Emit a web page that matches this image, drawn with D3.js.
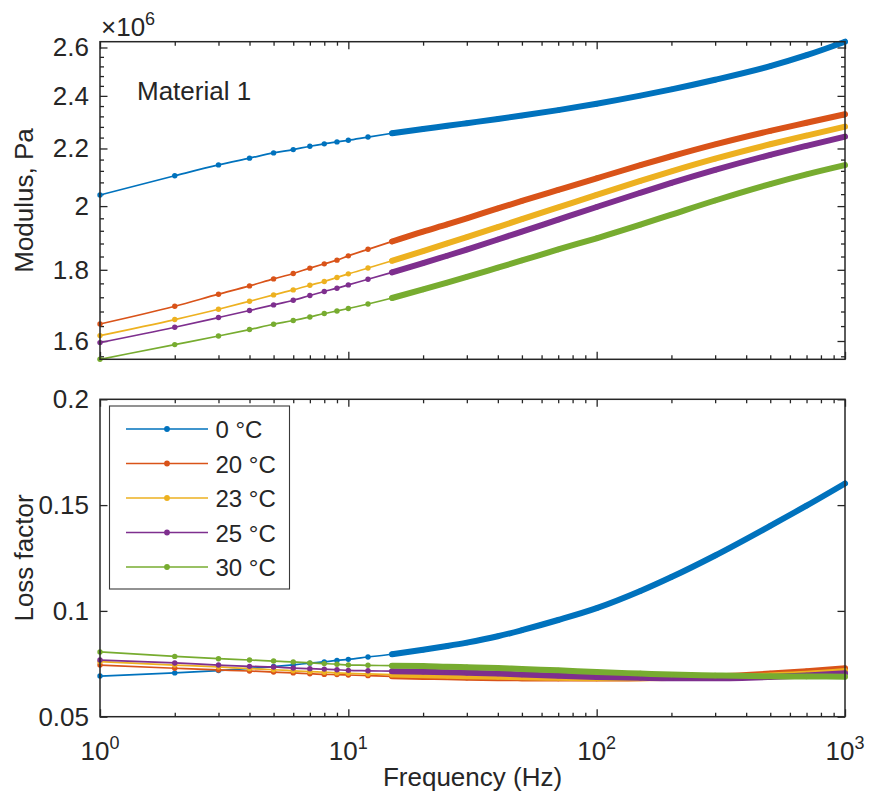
<!DOCTYPE html>
<html><head><meta charset="utf-8">
<script src="https://cdn.jsdelivr.net/npm/d3@7"></script>
<style>
body{margin:0;background:#fff}
svg{display:block}
text{font-family:"Liberation Sans",Arial,Helvetica,sans-serif;fill:#262626}
</style>
</head><body>
<svg id="c" width="869" height="798"></svg>
<script>
// ---- data ----
const freq = [1,2,3,4,5,6,7,8,9,10,12,15,20,25,30,40,50,70,100,150,200,300,500,700,1000];

// Modulus (x 10^6 Pa)
const mod0  = [2.037,2.103,2.141,2.165,2.184,2.196,2.208,2.217,2.224,2.230,2.242,2.256,2.272,2.284,2.294,2.310,2.323,2.344,2.369,2.401,2.426,2.465,2.521,2.567,2.625];
const mod20 = [1.6457,1.6947,1.7288,1.7527,1.7731,1.7891,1.8049,1.8178,1.8290,1.8420,1.8620,1.8862,1.9174,1.9401,1.9598,1.9923,2.0170,2.0542,2.0942,2.1400,2.1719,2.2150,2.2650,2.2957,2.3283];
const mod23 = [1.6144,1.6578,1.6863,1.7088,1.7268,1.7411,1.7547,1.7655,1.7773,1.7879,1.8053,1.8271,1.8565,1.8802,1.9000,1.9319,1.9571,1.9958,2.0377,2.0852,2.1183,2.1632,2.2154,2.2475,2.2808];
const mod25 = [1.5958,1.6368,1.6633,1.6827,1.6984,1.7117,1.7251,1.7365,1.7461,1.7556,1.7720,1.7925,1.8200,1.8423,1.8613,1.8925,1.9174,1.9557,1.9971,2.0446,2.0781,2.1235,2.1768,2.2096,2.2437];
const mod30 = [1.5523,1.5905,1.6133,1.6306,1.6449,1.6551,1.6650,1.6744,1.6816,1.6883,1.7010,1.7180,1.7424,1.7623,1.7791,1.8064,1.8279,1.8615,1.8964,1.9395,1.9720,2.0186,2.0741,2.1077,2.1403];

// Loss factor
const loss0  = [0.0692,0.0707,0.0718,0.0728,0.0737,0.0745,0.0753,0.0759,0.0766,0.0771,0.0782,0.0795,0.0816,0.0834,0.0850,0.0880,0.0909,0.0957,0.1013,0.1094,0.1160,0.1262,0.1402,0.1497,0.1602];
const loss20 = [0.0744,0.0729,0.0721,0.0716,0.0711,0.0707,0.0703,0.0700,0.0699,0.0697,0.0694,0.0691,0.0688,0.0686,0.0684,0.0682,0.0681,0.0680,0.0680,0.0682,0.0685,0.0691,0.0704,0.0715,0.0729];
const loss23 = [0.0760,0.0744,0.0735,0.0727,0.0722,0.0717,0.0713,0.0710,0.0707,0.0705,0.0702,0.0699,0.0696,0.0693,0.0691,0.0689,0.0686,0.0684,0.0682,0.0682,0.0683,0.0686,0.0695,0.0703,0.0716];
const loss25 = [0.0768,0.0754,0.0744,0.0738,0.0735,0.0730,0.0727,0.0725,0.0722,0.0719,0.0717,0.0715,0.0712,0.0710,0.0708,0.0704,0.0699,0.0694,0.0688,0.0684,0.0682,0.0682,0.0688,0.0695,0.0705];
const loss30 = [0.0806,0.0785,0.0774,0.0768,0.0763,0.0759,0.0754,0.0751,0.0748,0.0744,0.0743,0.0741,0.0740,0.0736,0.0734,0.0730,0.0725,0.0719,0.0711,0.0704,0.0699,0.0695,0.0691,0.0690,0.0689];

const seriesLabels = ["0 °C","20 °C","23 °C","25 °C","30 °C"];
const colors = ["#0072BD","#D95319","#EDB120","#7E2F8E","#77AC30"];

const xMajor = [1,10,100,1000];
const xMajorExp = ["0","1","2","3"];
const yTopMajor = [1.6,1.8,2.0,2.2,2.4,2.6];
const yTopLabels = ["1.6","1.8","2","2.2","2.4","2.6"];
const yTopMinor = [1.56,1.64,1.68,1.72,1.76,1.84,1.88,1.92,1.96,2.04,2.08,2.12,2.16,2.24,2.28,2.32,2.36,2.44,2.48,2.52,2.56];
const yBotMajor = [0.05,0.1,0.15,0.2];
const yBotLabels = ["0.05","0.1","0.15","0.2"];

const modSeries = [mod0,mod20,mod23,mod25,mod30];
const lossSeries = [loss0,loss20,loss23,loss25,loss30];

// ---- layout ----
const svg = d3.select("#c");
const X0 = 100, X1 = 845;
const TOP = {y0: 41.7, y1: 359.3};
const BOT = {y0: 399.3, y1: 716.7};
const AX = "#262626";
const FS = 26;

const x = d3.scaleLog().domain([1,1000]).range([X0,X1]);
const xMinor = x.ticks().filter(t => !xMajor.includes(t));

const allMod = modSeries.flat();
const yTop = d3.scaleLog().domain([d3.min(allMod), d3.max(allMod)]).range([TOP.y1, TOP.y0]);
const yBot = d3.scaleLinear().domain([0.05,0.2]).range([BOT.y1, BOT.y0]);

function styleAxis(g){
  g.select(".domain").remove();
  g.selectAll(".tick line").attr("stroke",AX).attr("stroke-width",1.3);
  g.selectAll(".tick text").attr("font-size",FS).attr("fill",AX)
   .attr("font-family",'"Liberation Sans",Arial,Helvetica,sans-serif');
}

function panel(P, y, series, yMaj, yLab, yMin){
  const g = svg.append("g");
  g.append("g").attr("transform",`translate(0,${P.y1})`)
    .call(d3.axisBottom(x).tickValues(xMajor).tickSize(-7.5).tickFormat("")).call(styleAxis);
  g.append("g").attr("transform",`translate(0,${P.y1})`)
    .call(d3.axisBottom(x).tickValues(xMinor).tickSize(-4).tickFormat("")).call(styleAxis);
  g.append("g").attr("transform",`translate(0,${P.y0})`)
    .call(d3.axisTop(x).tickValues(xMajor).tickSize(-7.5).tickFormat("")).call(styleAxis);
  g.append("g").attr("transform",`translate(0,${P.y0})`)
    .call(d3.axisTop(x).tickValues(xMinor).tickSize(-4).tickFormat("")).call(styleAxis);
  g.append("g").attr("transform",`translate(${X0},0)`)
    .call(d3.axisLeft(y).tickValues(yMaj).tickSize(-7.5).tickPadding(11).tickFormat((d,i)=>yLab[i])).call(styleAxis);
  g.append("g").attr("transform",`translate(${X1},0)`)
    .call(d3.axisRight(y).tickValues(yMaj).tickSize(-7.5).tickFormat("")).call(styleAxis);
  if (yMin){
    g.append("g").attr("transform",`translate(${X0},0)`)
      .call(d3.axisLeft(y).tickValues(yMin).tickSize(-4).tickFormat("")).call(styleAxis);
    g.append("g").attr("transform",`translate(${X1},0)`)
      .call(d3.axisRight(y).tickValues(yMin).tickSize(-4).tickFormat("")).call(styleAxis);
  }
  const line = d3.line().curve(d3.curveMonotoneX).x(d=>x(d.f)).y(d=>y(d.v));
  series.forEach((arr,i)=>{
    const pts = freq.map((f,k)=>({f, v: arr[k]}));
    const s = g.append("g");
    s.append("path").attr("d",line(pts)).attr("fill","none")
      .attr("stroke",colors[i]).attr("stroke-width",1.7);
    // band where the original's per-Hz markers overlap
    s.append("path").attr("d",line(pts.filter(p=>p.f>=15))).attr("fill","none")
      .attr("stroke",colors[i]).attr("stroke-width",6)
      .attr("stroke-linecap","round").attr("stroke-linejoin","round");
    s.selectAll("circle").data(pts).join("circle")
      .attr("cx",d=>x(d.f)).attr("cy",d=>y(d.v)).attr("r",2.7).attr("fill",colors[i]);
  });
  g.append("rect").attr("x",X0).attr("y",P.y0).attr("width",X1-X0).attr("height",P.y1-P.y0)
    .attr("fill","none").attr("stroke",AX).attr("stroke-width",1.5);
  return g;
}

panel(TOP, yTop, modSeries, yTopMajor, yTopLabels, yTopMinor);
panel(BOT, yBot, lossSeries, yBotMajor, yBotLabels, null);

// x tick labels 10^n
xMajor.forEach((t,i)=>{
  const tx = svg.append("text").attr("x",x(t)).attr("y",760).attr("text-anchor","middle")
    .attr("font-size",FS);
  tx.append("tspan").text("10");
  tx.append("tspan").attr("font-size",18).attr("dy",-11).text(xMajorExp[i]);
});

// exponent marker for top axis
const ex = svg.append("text").attr("x",101).attr("y",36).attr("font-size",26);
ex.append("tspan").text("×10");
ex.append("tspan").attr("font-size",18).attr("dy",-11).text("6");

// axis titles
svg.append("text").attr("transform",`translate(33,${(TOP.y0+TOP.y1)/2}) rotate(-90)`)
  .attr("text-anchor","middle").attr("font-size",FS).text("Modulus, Pa");
svg.append("text").attr("transform",`translate(33,${(BOT.y0+BOT.y1)/2}) rotate(-90)`)
  .attr("text-anchor","middle").attr("font-size",FS).text("Loss factor");
svg.append("text").attr("x",(X0+X1)/2).attr("y",786).attr("text-anchor","middle")
  .attr("font-size",FS).text("Frequency (Hz)");

// annotation
svg.append("text").attr("x",137).attr("y",100).attr("font-size",FS).text("Material 1");

// legend
const lg = svg.append("g");
lg.append("rect").attr("x",109.5).attr("y",406).attr("width",180).attr("height",183)
  .attr("fill","#fff").attr("stroke","#3a3a3a").attr("stroke-width",1.1);
const rowY = d3.scalePoint().domain(seriesLabels).range([429,567]);
seriesLabels.forEach((lab,i)=>{
  const yy = rowY(lab);
  lg.append("line").attr("x1",126).attr("x2",208).attr("y1",yy).attr("y2",yy)
    .attr("stroke",colors[i]).attr("stroke-width",1.7);
  lg.append("circle").attr("cx",167).attr("cy",yy).attr("r",2.9).attr("fill",colors[i]);
  lg.append("text").attr("x",215.5).attr("y",yy+9).attr("font-size",24).text(lab);
});
</script>
</body></html>
